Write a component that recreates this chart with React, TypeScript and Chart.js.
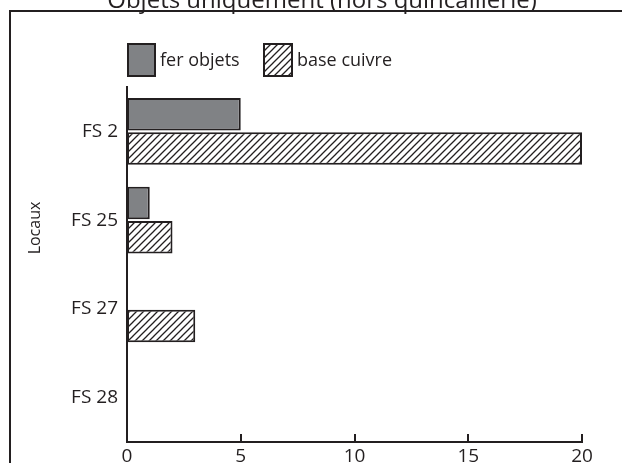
import React, { useEffect, useRef } from 'react';
import { Chart, registerables } from 'chart.js';

Chart.register(...registerables);

const TITLE = 'Objets uniquement (hors quincaillerie)';
const Y_TITLE = 'Locaux';
const categories = ['FS 2', 'FS 25', 'FS 27', 'FS 28'];
const seriesNames = ['fer objets', 'base cuivre'];
const ferObjets = [5, 1, 0, 0];
const baseCuivre = [20, 2, 3, 0];
const xTicks = [0, 5, 10, 15, 20];

const INK = '#231f20';
const GREY = '#808285';
const FONT = '"Open Sans", "DejaVu Sans", sans-serif';

function makeHatch(): CanvasPattern | string {
  const s = 7;
  const c = document.createElement('canvas');
  c.width = s;
  c.height = s;
  const g = c.getContext('2d');
  if (!g) return '#fff';
  g.fillStyle = '#ffffff';
  g.fillRect(0, 0, s, s);
  g.strokeStyle = INK;
  g.lineWidth = 1.3;
  g.beginPath();
  for (const x0 of [-s, 0, s]) {
    g.moveTo(x0 - 1, s + 1);
    g.lineTo(x0 + s + 1, -1);
  }
  g.stroke();
  const p = g.createPattern(c, 'repeat');
  return p || '#fff';
}

export default function App() {
  const ref = useRef<HTMLCanvasElement | null>(null);

  useEffect(() => {
    const canvas = ref.current;
    if (!canvas) return;
    const ctx0 = canvas.getContext('2d');
    if (!ctx0) return;
    const hatch = makeHatch();

    const decor = {
      id: 'decor',
      afterDraw(chart: any) {
        const ctx = chart.ctx as CanvasRenderingContext2D;
        const area = chart.chartArea;
        const xs = chart.scales.x;
        ctx.save();
        // outer frame
        ctx.strokeStyle = INK;
        ctx.lineWidth = 2;
        ctx.strokeRect(10, 11, 1000, 1000);
        // title
        ctx.fillStyle = INK;
        ctx.font = `24px ${FONT}`;
        ctx.textAlign = 'center';
        ctx.textBaseline = 'alphabetic';
        ctx.fillText(TITLE, 322, 8);
        // y axis title
        ctx.save();
        ctx.translate(35, 228);
        ctx.rotate(-Math.PI / 2);
        ctx.font = `16px ${FONT}`;
        ctx.textAlign = 'center';
        ctx.textBaseline = 'middle';
        ctx.fillText(Y_TITLE, 0, 0);
        ctx.restore();
        // inward tick marks
        ctx.strokeStyle = INK;
        ctx.lineWidth = 2;
        ctx.beginPath();
        for (const v of xTicks) {
          const px = Math.round(xs.getPixelForValue(v));
          ctx.moveTo(px, area.bottom);
          ctx.lineTo(px, area.bottom - 8);
        }
        ctx.stroke();
        // legend
        const items = [
          { x: 127, w: 29, fill: GREY as any, label: seriesNames[0] },
          { x: 263, w: 30, fill: hatch as any, label: seriesNames[1] },
        ];
        ctx.font = `18px ${FONT}`;
        ctx.textAlign = 'left';
        ctx.textBaseline = 'middle';
        for (const it of items) {
          ctx.fillStyle = it.fill;
          ctx.fillRect(it.x, 43, it.w, 34);
          ctx.strokeStyle = INK;
          ctx.lineWidth = 2;
          ctx.strokeRect(it.x + 1, 44, it.w - 2, 32);
          ctx.fillStyle = INK;
          ctx.fillText(it.label, it.x + it.w + 4, 61);
        }
        ctx.restore();
      },
    };

    const chart = new Chart(ctx0, {
      type: 'bar',
      data: {
        labels: categories,
        datasets: [
          {
            label: seriesNames[0],
            data: ferObjets,
            backgroundColor: GREY,
            borderColor: INK,
            borderWidth: 2,
            borderSkipped: false,
            categoryPercentage: 0.77,
            barPercentage: 0.95,
          },
          {
            label: seriesNames[1],
            data: baseCuivre,
            backgroundColor: hatch as any,
            borderColor: INK,
            borderWidth: 2,
            borderSkipped: false,
            categoryPercentage: 0.77,
            barPercentage: 0.95,
          },
        ],
      },
      options: {
        indexAxis: 'y',
        animation: false,
        responsive: false,
        maintainAspectRatio: false,
        layout: { padding: { top: 87, right: 40, left: 0, bottom: 0 } },
        plugins: {
          legend: { display: false },
          title: { display: false },
          tooltip: { enabled: false },
        },
        scales: {
          x: {
            type: 'linear',
            position: 'bottom',
            min: 0,
            max: 20,
            afterBuildTicks: (s: any) => {
              s.ticks = xTicks.map((v) => ({ value: v }));
            },
            afterFit: (s: any) => {
              s.height = 21;
            },
            grid: { display: false, drawTicks: false },
            border: { display: true, color: INK, width: 2 },
            ticks: {
              color: INK,
              font: { family: FONT, size: 19 },
              padding: 3,
              maxRotation: 0,
              autoSkip: false,
            },
          },
          y: {
            type: 'category',
            offset: true,
            afterFit: (s: any) => {
              s.width = 127;
            },
            grid: { display: false, drawTicks: false },
            border: { display: true, color: INK, width: 2 },
            ticks: {
              color: INK,
              font: { family: FONT, size: 19 },
              padding: 9,
            },
          },
        },
      },
      plugins: [decor],
    });

    return () => chart.destroy();
  }, []);

  return (
    <div style={{ position: 'fixed', left: 0, top: 0, width: 622, height: 463, overflow: 'hidden', background: '#fff' }}>
      <canvas ref={ref} width={622} height={463} style={{ display: 'block' }} />
    </div>
  );
}
